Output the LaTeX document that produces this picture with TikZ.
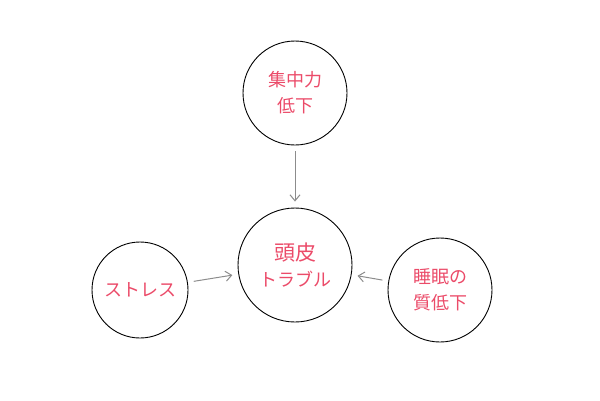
\documentclass[tikz,border=0pt]{standalone}
\usepackage{fontspec}
\usetikzlibrary{arrows.meta}
\newfontfamily\cjk{Noto Sans CJK JP}
\definecolor{labelpink}{RGB}{235,75,105}
\definecolor{arrowgray}{RGB}{140,140,140}
\begin{document}
\begin{tikzpicture}[
    x=1pt,
    y=-1pt,
    every node/.style={
      draw,
      circle,
      line width=0.9pt,
      text=labelpink,
      font=\cjk\fontsize{18}{26}\selectfont,
      align=center,
      inner sep=0pt
    },
    feed/.style={
      -{Straight Barb[length=6pt,width=10pt]},
      draw=arrowgray,
      line width=1pt,
      shorten >=6pt,
      shorten <=6pt
    }
  ]
    \useasboundingbox (0, 0) rectangle (600, 400);
    \node[minimum size=104pt] (focus) at (295, 93) {集中力\\低下};
    \node[minimum size=114pt] (scalp) at (295, 265) {\fontsize{21}{30}\selectfont 頭皮\\トラブル};
    \node[minimum size=96pt] (stress) at (140, 290) {ストレス};
    \node[minimum size=104pt] (sleep) at (440, 290) {睡眠の\\質低下};

    \draw[feed] (focus) to (scalp);
    \draw[feed] (stress) to (scalp);
    \draw[feed] (sleep) to (scalp);
  \end{tikzpicture}
\end{document}
